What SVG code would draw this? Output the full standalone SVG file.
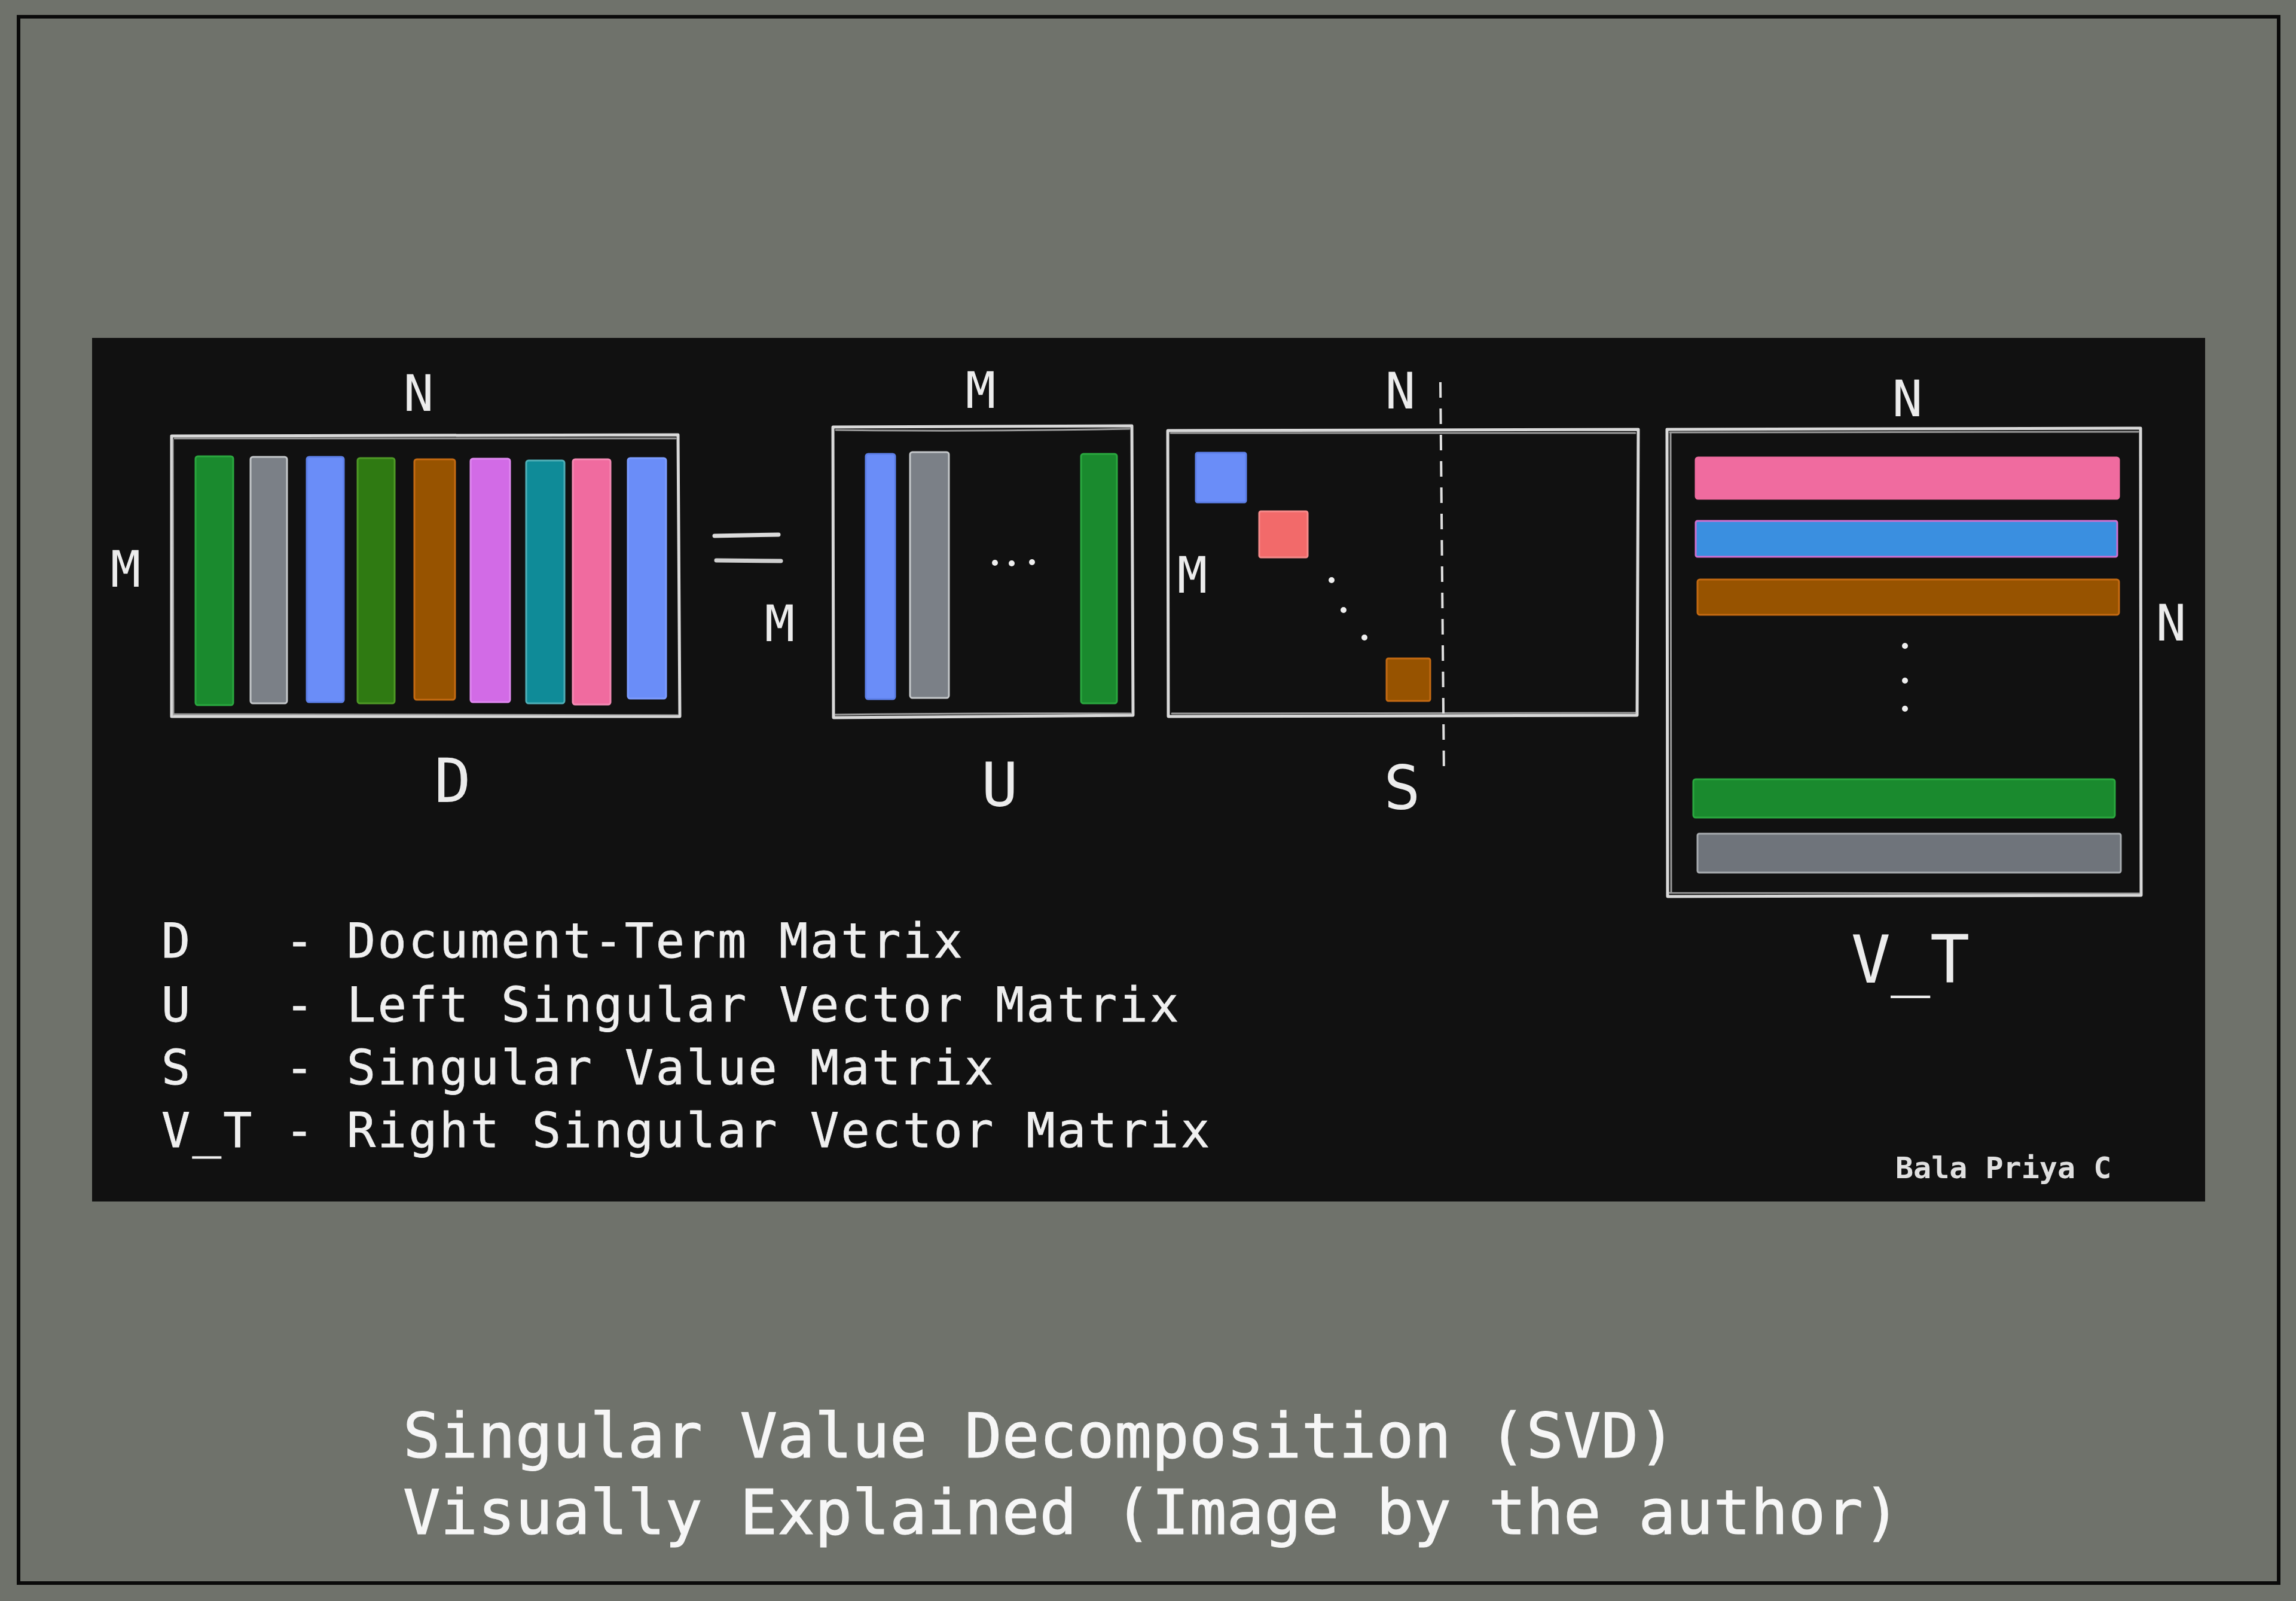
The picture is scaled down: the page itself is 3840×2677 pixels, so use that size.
<svg xmlns="http://www.w3.org/2000/svg" width="3840" height="2677" viewBox="0 0 3840 2677">
<style>
.lbl{font-family:"DejaVu Sans Mono","Liberation Mono",monospace;fill:#ececec;text-anchor:middle}
.dim{font-size:84px}
.name{font-size:102px}
.leg{font-family:"DejaVu Sans Mono","Liberation Mono",monospace;font-size:80px;letter-spacing:3.5px;fill:#efefef;stroke:#efefef;stroke-width:0.8}
.title{font-family:"DejaVu Sans Mono","Liberation Mono",monospace;font-size:104px;fill:#f6f6f6;stroke:#f6f6f6;stroke-width:1.2}
.box{fill:none;stroke:#d9d9d9;stroke-width:5;stroke-linejoin:round;stroke-linecap:round}
.box2{fill:none;stroke:#bdbdbd;stroke-width:3;stroke-linecap:round;opacity:.8}
.dot{fill:#efefef}
.bar{stroke-width:3;stroke-linejoin:round}
</style>
<rect x="0" y="0" width="3840" height="2677" fill="#6f726b"/>
<rect x="31" y="28" width="3780" height="2619" fill="none" stroke="#0a0a0a" stroke-width="6"/>
<rect x="154" y="565" width="3534" height="1444" fill="#111111"/>

<g id="connectors"/>

<g id="matrix-D">
  <path class="box" d="M287 729 L1134 727 L1137 1198 L287 1198 Z"/>
  <path class="box2" d="M292 733 L1130 733 M291 1194 L1133 1196 M289 735 L290 1196"/>
  <rect class="bar" x="327" y="763" width="63" height="416" rx="4" fill="#1a8a2e" stroke="#2aa83f"/>
  <rect class="bar" x="419" y="764" width="61" height="412" rx="4" fill="#7b8087" stroke="#c4c7ca"/>
  <rect class="bar" x="513" y="764" width="62" height="410" rx="4" fill="#6a8df8" stroke="#5c7fe8"/>
  <rect class="bar" x="598" y="766" width="62" height="410" rx="4" fill="#2f7a12" stroke="#4f9a26"/>
  <rect class="bar" x="693" y="768" width="68" height="402" rx="4" fill="#975300" stroke="#c46a12"/>
  <rect class="bar" x="787" y="767" width="66" height="407" rx="4" fill="#d26be6" stroke="#e088f0"/>
  <rect class="bar" x="880" y="770" width="64" height="406" rx="4" fill="#0f8b98" stroke="#4fb0b8"/>
  <rect class="bar" x="958" y="768" width="63" height="410" rx="4" fill="#f06b9f" stroke="#f58ab4"/>
  <rect class="bar" x="1050" y="766" width="64" height="402" rx="4" fill="#6a8df8" stroke="#7c9cff"/>
  <text class="lbl dim" x="700" y="687">N</text>
  <text class="lbl dim" x="210" y="981">M</text>
  <text class="lbl name" x="757" y="1341">D</text>
</g>

<g id="equals">
  <path d="M1195 896 L1302 894" stroke="#dcdcdc" stroke-width="7" stroke-linecap="round" fill="none"/>
  <path d="M1198 937 L1306 938" stroke="#cfcfcf" stroke-width="7" stroke-linecap="round" fill="none"/>
</g>

<g id="matrix-U">
  <path class="box" d="M1393 714 L1893 712 L1895 1196 L1394 1200 Z"/>
  <path class="box2" d="M1398 719 Q1640 722 1889 717 M1397 1195 Q1640 1192 1891 1193"/>
  <rect class="bar" x="1448" y="759" width="49" height="410" rx="4" fill="#6a8df8" stroke="#5c7fe8"/>
  <rect class="bar" x="1522" y="756" width="65" height="411" rx="4" fill="#7b8087" stroke="#c4c7ca"/>
  <rect class="bar" x="1808" y="759" width="60" height="417" rx="4" fill="#1a8a2e" stroke="#2aa83f"/>
  <circle class="dot" cx="1664" cy="941" r="5"/>
  <circle class="dot" cx="1692" cy="942" r="5"/>
  <circle class="dot" cx="1726" cy="940" r="5"/>
  <text class="lbl dim" x="1304" y="1072">M</text>
  <text class="lbl dim" x="1640" y="682">M</text>
  <text class="lbl name" x="1672" y="1348">U</text>
</g>

<g id="matrix-S">
  <path class="box" d="M1953 720 L2740 718 L2738 1196 L1954 1198 Z"/>
  <path class="box2" d="M1958 724 L2735 724 M1960 1193 L2736 1192"/>
  <rect class="bar" x="2000" y="757" width="84" height="83" rx="3" fill="#6a8df8" stroke="#5c7fe8"/>
  <rect class="bar" x="2106" y="855" width="81" height="77" rx="3" fill="#f26a6a" stroke="#f58a8a"/>
  <rect class="bar" x="2319" y="1101" width="73" height="71" rx="3" fill="#975300" stroke="#c46a12"/>
  <circle class="dot" cx="2227" cy="970" r="5"/>
  <circle class="dot" cx="2247" cy="1020" r="5"/>
  <circle class="dot" cx="2282" cy="1066" r="5"/>
  <path d="M2409 639 L2415 1299" stroke="#e0e0e0" stroke-width="4" stroke-dasharray="26 18" fill="none"/>
  <text class="lbl dim" x="2342" y="683">N</text>
  <text class="lbl dim" x="1994" y="991">M</text>
  <text class="lbl name" x="2345" y="1353">S</text>
</g>

<g id="matrix-VT">
  <path class="box" d="M2788 718 L3580 716 L3581 1497 L2789 1499 Z"/>
  <path class="box2" d="M2793 723 L3576 722 M2792 1493 L3578 1494 M2794 725 L2795 1492"/>
  <rect class="bar" x="2836" y="765" width="708" height="69" rx="4" fill="#f06b9f" stroke="#f06b9f"/>
  <rect class="bar" x="2836" y="871" width="705" height="60" rx="3" fill="#3a8fe0" stroke="#d070d0"/>
  <rect class="bar" x="2839" y="969" width="705" height="59" rx="4" fill="#975300" stroke="#c46a12"/>
  <circle class="dot" cx="3186" cy="1080" r="5"/>
  <circle class="dot" cx="3186" cy="1138" r="5"/>
  <circle class="dot" cx="3186" cy="1185" r="5"/>
  <rect class="bar" x="2832" y="1303" width="705" height="64" rx="4" fill="#1a8a2e" stroke="#2aa83f"/>
  <rect class="bar" x="2839" y="1394" width="708" height="65" rx="3" fill="#6f747b" stroke="#a8acb0"/>
  <text class="lbl dim" x="3190" y="696">N</text>
  <text class="lbl dim" x="3631" y="1071">N</text>
  <text class="lbl" x="3195" y="1643" style="font-size:110px">V_T</text>
</g>

<g id="legend">
  <text class="leg" x="270" y="1601" xml:space="preserve">D   - Document-Term Matrix</text>
  <text class="leg" x="270" y="1708" xml:space="preserve">U   - Left Singular Vector Matrix</text>
  <text class="leg" x="270" y="1813" xml:space="preserve">S   - Singular Value Matrix</text>
  <text class="leg" x="270" y="1918" xml:space="preserve">V_T - Right Singular Vector Matrix</text>
</g>

<g id="author">
  <text x="3170" y="1970" style="font-family:'DejaVu Sans Mono','Liberation Mono',monospace;font-size:50px;font-weight:bold;fill:#e0e0e0">Bala Priya C</text>
</g>

<g id="caption">
  <text class="title" x="674" y="2437">Singular Value Decomposition (SVD)</text>
  <text class="title" x="674" y="2565">Visually Explained (Image by the author)</text>
</g>
</svg>
